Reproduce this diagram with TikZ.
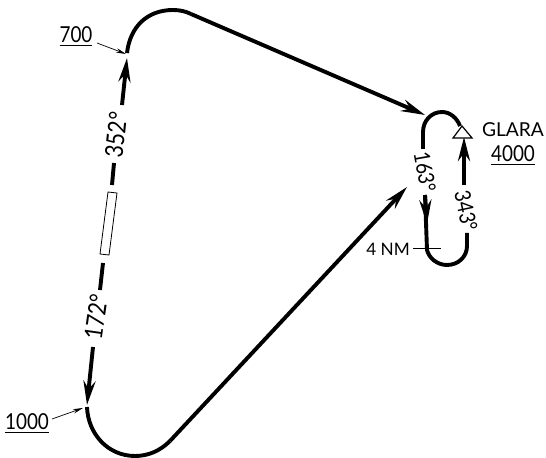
\documentclass[tikz,border=0pt]{standalone}
\usepackage{fontspec}
\setmainfont{Lato}
\newfontfamily\narrowfont{Lato}[FakeStretch=0.86]
\usetikzlibrary {arrows.meta, positioning}

\begin{document}
\begin{tikzpicture}[
    x=0.5pt,
    y=-0.5pt,
    track/.style={line width=1.95pt, line cap=butt},
    arrowtrack/.style={track, -{Stealth[length=12pt, width=6pt, inset=4pt]}},
    leader/.style={line width=0.35pt, -{Stealth[length=5pt, width=2.2pt]}},
    label/.style={inner sep=0pt, font=\fontsize{9.6}{11}\selectfont},
    altitude/.style={inner sep=0pt, font=\narrowfont\fontsize{11}{12}\selectfont},
    course/.style={inner sep=0pt, font=\narrowfont\fontsize{12.4}{14}\selectfont},
    holdcourse/.style={inner sep=0pt, font=\narrowfont\fontsize{11}{13}\selectfont},
]
    \useasboundingbox (0,0) rectangle (546,458);

    % outbound and turn at the top
    \coordinate (N1) at (122,105);
    \coordinate (N2) at (127,58);
    \coordinate (N3) at (127,53);
    \coordinate (N4) at (173,10);
    \coordinate (N5) at (191,14);
    \coordinate (N6) at (425,115);

    % the other leg and turn at the bottom
    \coordinate (S1) at (93,347);
    \coordinate (S2) at (87,405);
    \coordinate (S3) at (87,407);
    \coordinate (S4) at (135,456);
    \coordinate (S5) at (170,441);
    \coordinate (S6) at (407,187);

    % racetrack
    \coordinate (H1) at (423,149);
    \coordinate (H2) at (442,112);
    \coordinate (H3) at (460,126);
    \coordinate (H4) at (464,185);
    \coordinate (H5) at (464,137);
    \coordinate (H6) at (467,233);
    \coordinate (H7) at (447,265);
    \coordinate (H8) at (427,250);
    \coordinate (H9) at (425,195);
    \coordinate (H10) at (427,224);

    % middle of the long leg
    \coordinate (M1) at (114,163);
    \coordinate (M2) at (112,185);
    \coordinate (M3) at (103,263);
    \coordinate (M4) at (100,290);

    \draw[arrowtrack] (N1) -- (N2);
    \draw[track] (N3) .. controls (130,27) and (147,10) .. (N4)
        .. controls (180,10) and (186,11.5) .. (N5);
    \draw[arrowtrack] (N5) -- (N6);
    \draw[track] (M1) -- (M2);
    \draw[track] (M3) -- (M4);
    \draw[arrowtrack] (S1) -- (S2);
    \draw[track] (S3) .. controls (88,434) and (108,456) .. (S4)
        .. controls (148,456) and (160,451) .. (S5);
    \draw[arrowtrack] (S5) -- (S6);

    \draw[track] (H1) -- (423,132) .. controls (423,121) and (431,112) .. (H2)
        .. controls (450,112) and (457,118) .. (H3);
    \draw[arrowtrack] (H4) -- (H5);
    \draw[track] (H6) -- (467,246) .. controls (467,257) and (458,265) .. (H7)
        .. controls (437,265) and (429,258) .. (H8) -- (H9);
    \draw[arrowtrack] (H9) -- (H10);

    % holding fix
    \draw[fill=white, line width=0.6pt] (462,126) coordinate (T1) -- (472,138) coordinate (T2) -- (453,138) coordinate (T3) -- cycle;

    % beacon on the leg
    \draw[line width=0.4pt] (108,192) coordinate (R1) -- (117,193) coordinate (R2) -- (109,255) coordinate (R3) -- (100,254) coordinate (R4) -- cycle;

    \node[course, rotate=84] (C352) at (116,135) {352°};
    \node[course, rotate=82] (C172) at (96,317) {172°};
    \node[holdcourse, rotate=-80] (C163) at (425,172) {163°};
    \node[holdcourse, rotate=-78] (C343) at (466,211) {343°};

    \node[label] (GLARA) at (513,130) {GLARA};
    \node[altitude, below=4pt of GLARA] (ALT) {\underline{4000}};
    \node[label, font=\fontsize{8.6}{10}\selectfont] (NM) at (388,249) {4 NM};
    \node[altitude] (A700) at (76,37) {\underline{700}};
    \node[altitude] (A1000) at (27,424) {\underline{1000}};

    \coordinate (L700) at (97,43);
    \coordinate (L1000) at (52,419);
    \coordinate (P1000) at (83,408);
    \coordinate (P700) at (126,54);
    \coordinate (K1) at (413,248);
    \coordinate (K2) at (441,248);

    \draw[leader] (L700) -- (P700);
    \draw[leader] (L1000) -- (P1000);
    \draw[line width=0.35pt] (K1) -- (K2);
\end{tikzpicture}
\end{document}
